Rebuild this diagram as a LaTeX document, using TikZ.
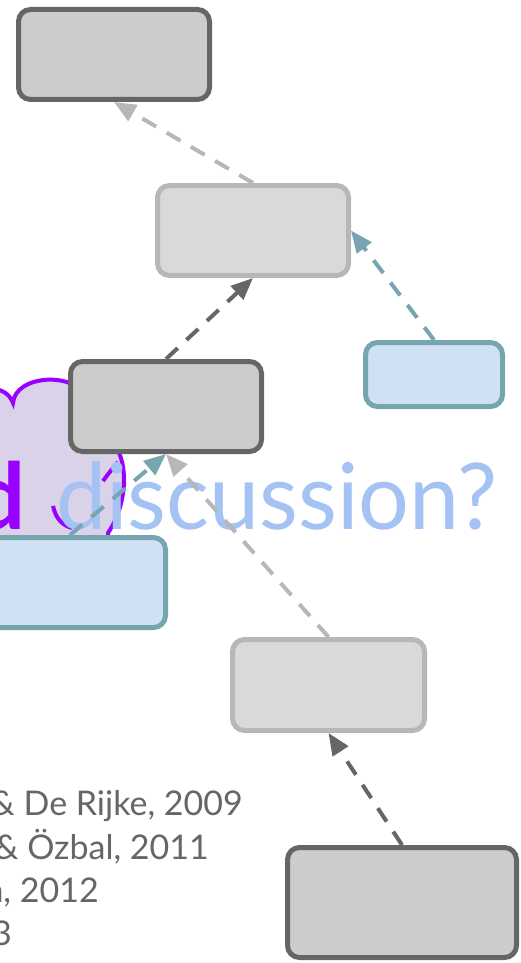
\documentclass[tikz,border=0pt]{standalone}
\usepackage{fontspec}
\setmainfont{Lato}
\usetikzlibrary{arrows.meta}
\definecolor{darkbd}{HTML}{666666}
\definecolor{darkfill}{HTML}{CCCCCC}
\definecolor{lightbd}{HTML}{B7B7B7}
\definecolor{lightfill}{HTML}{D9D9D9}
\definecolor{bluebd}{HTML}{76A5AF}
\definecolor{bluefill}{HTML}{CFE2F3}
\definecolor{cloudbd}{HTML}{9900FF}
\definecolor{cloudfill}{HTML}{D9D2E9}
\definecolor{qblue}{HTML}{A4C2F4}
\definecolor{reftext}{HTML}{666666}
\begin{document}
\begin{tikzpicture}[x=1pt,y=-1pt,
  box/.style={rounded corners=12pt, line width=5pt, inner sep=0pt},
  darkbox/.style={box, draw=darkbd, fill=darkfill},
  lightbox/.style={box, draw=lightbd, fill=lightfill},
  bluebox/.style={box, draw=bluebd, fill=bluefill},
  conn/.style={line width=4pt, dash pattern=on 16pt off 12pt, -{Triangle[length=22pt,width=18pt]}},
  bigtext/.style={inner sep=0pt, font=\fontsize{92}{92}\selectfont},
  reftxt/.style={inner sep=0pt, text=reftext, anchor=base east, font=\fontsize{34}{40}\selectfont}
]
\useasboundingbox (0,0) rectangle (520,963);
\clip (0,0) rectangle (520,963);
% cloud
\draw[cloudbd, fill=cloudfill, line width=4pt]
  (-40,560) -- (-40,420)
  .. controls (-35,385) and (5,380) .. (13,403)
  .. controls (15,375) and (75,370) .. (90,400)
  -- (110,440)
  .. controls (128,455) and (130,500) .. (108,533)
  -- (108,560) -- cycle;
\draw[cloudbd, line width=4pt] (53,506) .. controls (56,520) and (64,526) .. (72,528);
\draw[cloudbd, line width=4pt] (103,481) .. controls (108,474) and (113,468) .. (118,462);
% big text
\node[bigtext, text=cloudbd, anchor=base east, font=\fontsize{92}{92}\selectfont\bfseries] (dd) at (26,529) {d};
\node[bigtext, text=qblue, anchor=base west] (q) at (56,529) {\scalebox{0.975}[1]{discussion?}};
% reference lines
\node[reftxt] (r1) at (243,815) {\& De Rijke, 2009};
\node[reftxt] (r2) at (209,859) {\& Özbal, 2011};
\node[reftxt] (r3) at (99,902) {n, 2012};
\node[reftxt] (r4) at (12,945) {3};
% boxes
\node[darkbox, minimum width=191pt, minimum height=90pt] (A) at (114,54.5) {};
\node[lightbox, minimum width=191pt, minimum height=90pt] (B) at (253,230.5) {};
\node[bluebox, minimum width=137pt, minimum height=64pt] (C) at (434,374.5) {};
\node[darkbox, minimum width=191pt, minimum height=90pt] (D) at (166,406.5) {};
\node[bluebox, minimum width=191pt, minimum height=90pt] (E) at (70,582.5) {};
\node[lightbox, minimum width=192pt, minimum height=91pt] (F) at (328.5,685) {};
\node[darkbox, minimum width=229pt, minimum height=110pt] (G) at (402,902.5) {};
% connectors
\draw[conn, lightbd] (B.north) -- (A.south);
\draw[conn, darkbd] (D.north) -- (B.south);
\draw[conn, bluebd] (C.north) -- (B.east);
\draw[conn, bluebd] (E.north) -- (D.south);
\draw[conn, lightbd] (F.north) -- (D.south);
\draw[conn, darkbd] (G.north) -- (F.south);
\end{tikzpicture}
\end{document}
